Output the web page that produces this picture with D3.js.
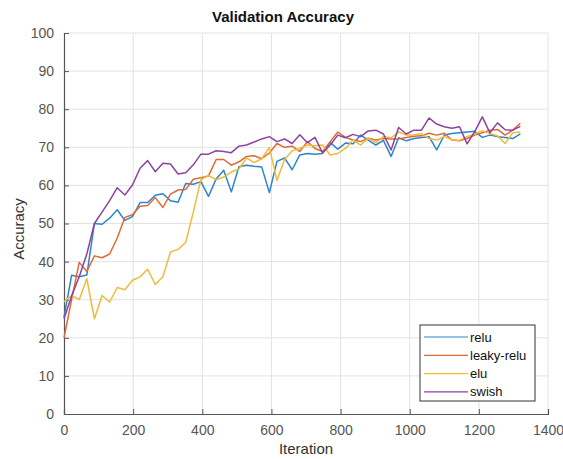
<!DOCTYPE html>
<html>
<head>
	<meta charset="utf-8">
	<script src="https://d3js.org/d3.v7.min.js"></script>
	<style>
		body { margin: 0; background: #fff; }
		text { font-family: "Liberation Sans", Arial, sans-serif; }
	</style>
</head>
<body>
<div id="graph"></div>
<script>

// validation checkpoints (every 22 iterations)
var iterations = d3.range(0, 1321, 22);

var relu = [25.4, 36.4, 36, 36.5, 50, 49.8, 51.4, 53.6, 50.8, 51.8,
  55.5, 55.5, 57.4, 57.8, 56, 55.6, 60.5, 60.3, 61, 57.1,
  61.7, 64, 58.3, 64.9, 65.3, 65, 64.8, 58.1, 66.3, 67.2,
  64.1, 68, 68.4, 68.2, 68.4, 71.3, 69.5, 71.1, 70.9, 73.2,
  71.9, 70.6, 71.8, 67.6, 72.5, 71.7, 72.3, 72.6, 72.8, 69.3,
  73.2, 73.6, 73.8, 74, 74.2, 72.6, 73.2, 72.8, 72.6, 72.3, 73.5];

var leakyRelu = [20, 30, 39.8, 37.4, 41.5, 41, 42, 46.2, 51.6, 52.3,
  54.5, 54.7, 56.8, 54.2, 57.7, 58.8, 58.9, 61.6, 62, 62.5,
  66.8, 66.8, 65.3, 66.2, 67.6, 67.8, 67, 68.5, 71, 70,
  70.3, 68.9, 71.5, 69.7, 68.9, 71.5, 74, 72.6, 71.9, 71.5,
  72.4, 71.9, 72.3, 72.2, 72.2, 72.6, 72.9, 73, 73.7, 73.2,
  73.7, 71.9, 71.7, 72.3, 73.2, 73.8, 74.5, 74.7, 73.2, 74.5, 76.3];

var elu = [29.5, 31.1, 30, 35.5, 25, 31.1, 29.4, 33.2, 32.6, 35.1,
  36, 38, 34, 36, 42.5, 43.2, 45, 53, 61.5, 62.6,
  61.5, 62.2, 63.5, 64.3, 67.2, 66, 67, 70, 61.3, 66.8,
  69.1, 69.7, 70.6, 70.4, 70.6, 68, 68.4, 69.7, 71.9, 70.6,
  72.4, 71.2, 72.8, 72.5, 74, 73.2, 73.2, 73.6, 72.3, 71.9,
  72.8, 72, 71.8, 72.8, 73.5, 74.3, 73.6, 73, 71, 73.8, 74];

var swish = [25, 31, 36, 42, 50, 53, 56, 59.4, 57.5, 60.1,
  64.5, 66.5, 63.6, 65.8, 65.6, 63, 63.3, 65.4, 68.2, 68.2,
  69.1, 68.9, 68.6, 70.3, 70.6, 71.4, 72.2, 72.8, 71.5, 72.2,
  71, 73.3, 71.2, 72.6, 68.5, 70.6, 73.2, 72.5, 73.4, 72.8,
  74.3, 74.5, 73.5, 69.3, 75.2, 73.5, 74.5, 74.5, 77.7, 76.1,
  75.4, 75, 75.4, 70.9, 74.1, 78, 73.8, 76.4, 74.6, 74.5, 75.5];

var seriesNames = ["relu", "leaky-relu", "elu", "swish"];
var seriesValues = [relu, leakyRelu, elu, swish];
var colors = ["#2b86cc", "#e06a35", "#efbb3a", "#8c43a0"];

var xTicks = [0, 200, 400, 600, 800, 1000, 1200, 1400];
var yTicks = [0, 10, 20, 30, 40, 50, 60, 70, 80, 90, 100];

var margin = {top: 33, right: 15, bottom: 45, left: 64},
    width = 563 - margin.left - margin.right,
    height = 459 - margin.top - margin.bottom;

var svg = d3.select("#graph")
  .append("svg")
    .attr("width", 563)
    .attr("height", 459)
  .append("g")
    .attr("transform", "translate(" + margin.left + "," + margin.top + ")");

var x = d3.scaleLinear().domain([0, 1400]).range([0, 484]);
var y = d3.scaleLinear().domain([0, 100]).range([381, 0]);

// grid
svg.append("g")
  .selectAll("line")
  .data(xTicks.slice(1))
  .enter().append("line")
    .attr("x1", function(d) { return x(d); })
    .attr("x2", function(d) { return x(d); })
    .attr("y1", 0).attr("y2", y(0))
    .attr("stroke", "#e2e2e2").attr("stroke-width", 1);

svg.append("g")
  .selectAll("line")
  .data(yTicks.slice(1))
  .enter().append("line")
    .attr("x1", 0).attr("x2", x(1400))
    .attr("y1", function(d) { return y(d); })
    .attr("y2", function(d) { return y(d); })
    .attr("stroke", "#e2e2e2").attr("stroke-width", 1);

// axes (MATLAB style: ticks point inward)
var xAxis = svg.append("g")
  .attr("transform", "translate(0," + y(0) + ")")
  .call(d3.axisBottom(x).tickValues(xTicks).tickFormat(d3.format("d")).tickSize(-5).tickPadding(11));

var yAxis = svg.append("g")
  .call(d3.axisLeft(y).tickValues(yTicks).tickFormat(d3.format("d")).tickSize(-5).tickPadding(10));

[xAxis, yAxis].forEach(function(a) {
  a.select(".domain").attr("stroke", "#555").attr("stroke-width", 1.2);
  a.selectAll(".tick line").attr("stroke", "#555");
  a.selectAll(".tick text").attr("fill", "#555").style("font-size", "14px");
});

// lines
var line = d3.line()
  .x(function(d, i) { return x(iterations[i]); })
  .y(function(d) { return y(d); });

seriesValues.forEach(function(vals, k) {
  svg.append("path")
    .datum(vals)
    .attr("fill", "none")
    .attr("stroke", colors[k])
    .attr("stroke-width", 1.5)
    .attr("stroke-linejoin", "round")
    .attr("d", line);
});

// legend
var legend = svg.append("g").attr("transform", "translate(356,292)");
legend.append("rect")
  .attr("width", 115).attr("height", 76)
  .attr("fill", "#fff").attr("stroke", "#333").attr("stroke-width", 1);

var lineLegend = legend.selectAll(".lineLegend").data(seriesNames)
  .enter().append("g")
  .attr("class", "lineLegend")
  .attr("transform", function(d, i) { return "translate(0," + (12 + i * 18.3) + ")"; });

lineLegend.append("line")
  .attr("x1", 4).attr("x2", 48)
  .attr("stroke", function(d, i) { return colors[i]; })
  .attr("stroke-width", 1.2);

lineLegend.append("text")
  .attr("x", 50).attr("dy", "0.35em")
  .style("font-size", "13px").attr("fill", "#111")
  .text(function(d) { return d; });

// title and labels
svg.append("text")
  .attr("x", 219).attr("y", -11)
  .attr("text-anchor", "middle")
  .attr("font-weight", "bold")
  .style("font-size", "15px")
  .attr("fill", "#111")
  .text("Validation Accuracy");

svg.append("text")
  .attr("x", 242).attr("y", 421)
  .attr("text-anchor", "middle")
  .style("font-size", "15px")
  .attr("fill", "#333")
  .text("Iteration");

svg.append("text")
  .attr("transform", "translate(-40," + 196 + ") rotate(-90)")
  .attr("text-anchor", "middle")
  .style("font-size", "15px")
  .attr("fill", "#333")
  .text("Accuracy");

</script>
</body>
</html>
